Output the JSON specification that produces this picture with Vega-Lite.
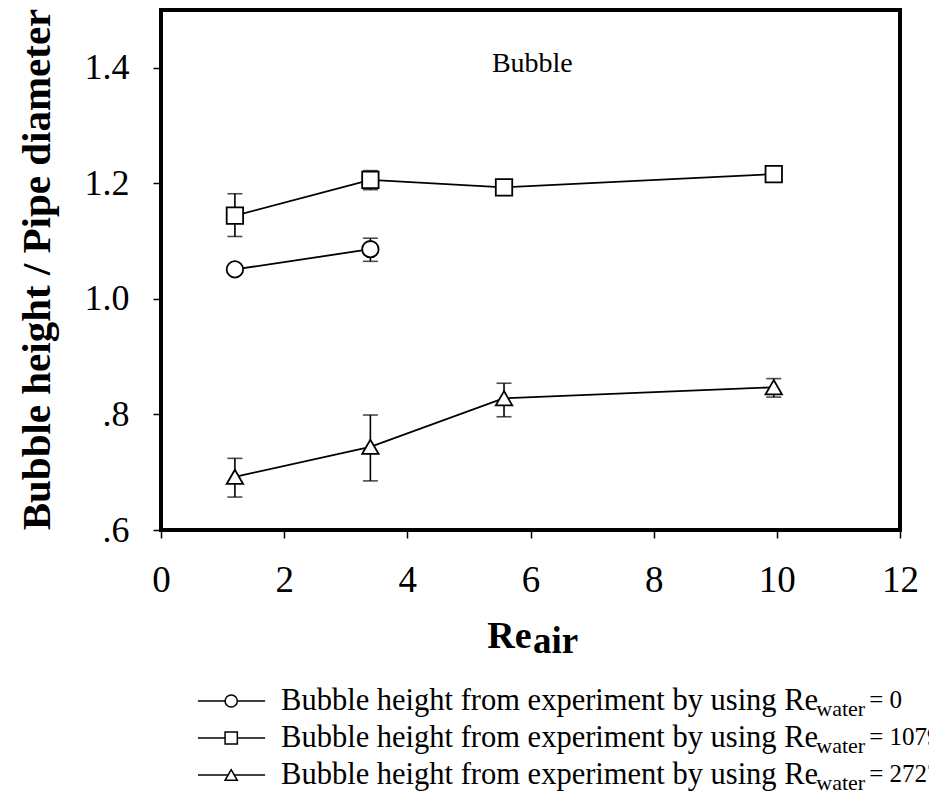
{
  "$schema": "https://vega.github.io/schema/vega-lite/v6.json",
  "autosize": "none",
  "padding": {"left": 161, "top": 10, "right": 29, "bottom": 278},
  "width": 739,
  "height": 520,
  "background": "white",
  "config": {
    "font": "Liberation Serif",
    "view": {"stroke": "black", "strokeWidth": 4},
    "axis": {
      "domain": false,
      "grid": false,
      "ticks": true,
      "tickColor": "black",
      "tickWidth": 1.5,
      "tickSize": 8,
      "labelColor": "black",
      "labelFont": "Liberation Serif",
      "titleColor": "black",
      "titleFont": "Liberation Serif"
    }
  },
  "datasets": {
    "main": [
      {"series": "0", "re": 1.2, "h": 1.051, "lo": null, "hi": null},
      {"series": "0", "re": 3.4, "h": 1.086, "lo": 1.065, "hi": 1.105},
      {"series": "1079", "re": 1.2, "h": 1.144, "lo": 1.108, "hi": 1.182},
      {"series": "1079", "re": 3.4, "h": 1.206, "lo": 1.189, "hi": 1.222},
      {"series": "1079", "re": 5.57, "h": 1.193, "lo": null, "hi": null},
      {"series": "1079", "re": 9.95, "h": 1.216, "lo": null, "hi": null},
      {"series": "2727", "re": 1.2, "h": 0.692, "lo": 0.657, "hi": 0.724},
      {"series": "2727", "re": 3.4, "h": 0.744, "lo": 0.685, "hi": 0.799},
      {"series": "2727", "re": 5.57, "h": 0.828, "lo": 0.796, "hi": 0.854},
      {"series": "2727", "re": 9.95, "h": 0.847, "lo": 0.83, "hi": 0.862}
    ],
    "legend": [
      {"series": "0", "label": "Bubble height from experiment by using Re", "sub": "water", "value": "= 0"},
      {"series": "1079", "label": "Bubble height from experiment by using Re", "sub": "water", "value": "= 1079"},
      {"series": "2727", "label": "Bubble height from experiment by using Re", "sub": "water", "value": "= 2727"}
    ],
    "notes": [
      {"text": "Bubble"}
    ],
    "subscript": [
      {"text": "air"}
    ]
  },
  "resolve": {"scale": {"y": "independent"}},
  "layer": [
    {
      "layer": [
        {
          "data": {"name": "main"},
          "mark": {"type": "line", "color": "black", "strokeWidth": 1.8},
          "encoding": {
            "x": {
              "field": "re", "type": "quantitative",
              "scale": {"domain": [0, 12], "nice": false, "zero": false},
              "axis": {
                "title": "Re",
                "values": [0, 2, 4, 6, 8, 10, 12],
                "format": "d",
                "labelFontSize": 37,
                "labelPadding": 24,
                "labelFlush": false,
                "titleFontSize": 38,
                "titleFontWeight": "bold",
                "titleAlign": "right",
                "titleAnchor": "start",
                "titleX": 370,
                "titleY": 117,
                "titleBaseline": "alphabetic"
              }
            },
            "y": {
              "field": "h", "type": "quantitative",
              "scale": {"domain": [0.6, 1.5], "nice": false, "zero": false},
              "axis": {
                "title": "Bubble height / Pipe diameter",
                "values": [0.6, 0.8, 1.0, 1.2, 1.4],
                "labelExpr": "datum.value < 1 ? replace(format(datum.value, '.1f'), '0.', '.') : format(datum.value, '.1f')",
                "labelFontSize": 36,
                "labelPadding": 24,
                "labelFlush": false,
                "titleFontSize": 41,
                "titleFontWeight": "bold",
                "titleAngle": 270,
                "titleX": -112,
                "titleY": 259,
                "titleAlign": "center",
                "titleBaseline": "alphabetic"
              }
            },
            "detail": {"field": "series"}
          }
        },
        {
          "data": {"name": "main"},
          "transform": [{"filter": "isValid(datum.lo)"}],
          "mark": {
            "type": "errorbar",
            "color": "black",
            "ticks": {"size": 15, "thickness": 1.6, "color": "black"},
            "rule": {"strokeWidth": 1.6, "color": "black"}
          },
          "encoding": {
            "x": {"field": "re", "type": "quantitative", "title": "Re"},
            "y": {"field": "lo", "type": "quantitative", "title": "Bubble height / Pipe diameter"},
            "y2": {"field": "hi"}
          }
        },
        {
          "data": {"name": "main"},
          "mark": {"type": "point", "filled": false, "fill": "white", "stroke": "black", "strokeWidth": 1.8, "size": 270, "opacity": 1},
          "encoding": {
            "x": {"field": "re", "type": "quantitative", "title": "Re"},
            "y": {"field": "h", "type": "quantitative", "title": "Bubble height / Pipe diameter"},
            "shape": {
              "field": "series", "type": "nominal",
              "scale": {"domain": ["0", "1079", "2727"], "range": ["circle", "square", "triangle-up"]},
              "legend": null
            }
          }
        },
        {
          "data": {"name": "notes"},
          "mark": {"type": "text", "fontSize": 28, "align": "center", "baseline": "alphabetic", "color": "black"},
          "encoding": {
            "x": {"datum": 6.03, "type": "quantitative"},
            "y": {"datum": 1.393, "type": "quantitative"},
            "text": {"field": "text"}
          }
        },
        {
          "data": {"name": "subscript"},
          "mark": {"type": "text", "fontSize": 37, "fontWeight": "bold", "align": "left", "baseline": "alphabetic", "color": "black"},
          "encoding": {
            "x": {"datum": 6.04, "type": "quantitative"},
            "y": {"datum": 0.387, "type": "quantitative"},
            "text": {"field": "text"}
          }
        }
      ]
    },
    {
      "data": {"name": "legend"},
      "encoding": {
        "y": {
          "field": "series", "type": "ordinal",
          "scale": {"type": "point", "domain": ["0", "1079", "2727"], "range": [691, 765], "padding": 0},
          "axis": null
        }
      },
      "layer": [
        {
          "mark": {"type": "rule", "color": "black", "strokeWidth": 1.5},
          "encoding": {
            "x": {"datum": 0.6, "type": "quantitative"},
            "x2": {"datum": 1.69}
          }
        },
        {
          "mark": {"type": "point", "filled": false, "fill": "white", "stroke": "black", "strokeWidth": 1.5, "size": 150, "opacity": 1},
          "encoding": {
            "x": {"datum": 1.14, "type": "quantitative"},
            "shape": {
              "field": "series", "type": "nominal",
              "scale": {"domain": ["0", "1079", "2727"], "range": ["circle", "square", "triangle-up"]},
              "legend": null
            }
          }
        },
        {
          "mark": {"type": "text", "fontSize": 30.5, "align": "left", "baseline": "alphabetic", "dy": 9, "color": "black"},
          "encoding": {
            "x": {"datum": 1.95, "type": "quantitative"},
            "text": {"field": "label"}
          }
        },
        {
          "mark": {"type": "text", "fontSize": 22, "align": "left", "baseline": "alphabetic", "dy": 15, "color": "black"},
          "encoding": {
            "x": {"datum": 10.64, "type": "quantitative"},
            "text": {"field": "sub"}
          }
        },
        {
          "mark": {"type": "text", "fontSize": 25, "align": "left", "baseline": "alphabetic", "dy": 7, "color": "black"},
          "encoding": {
            "x": {"datum": 11.5, "type": "quantitative"},
            "text": {"field": "value"}
          }
        }
      ]
    }
  ]
}
